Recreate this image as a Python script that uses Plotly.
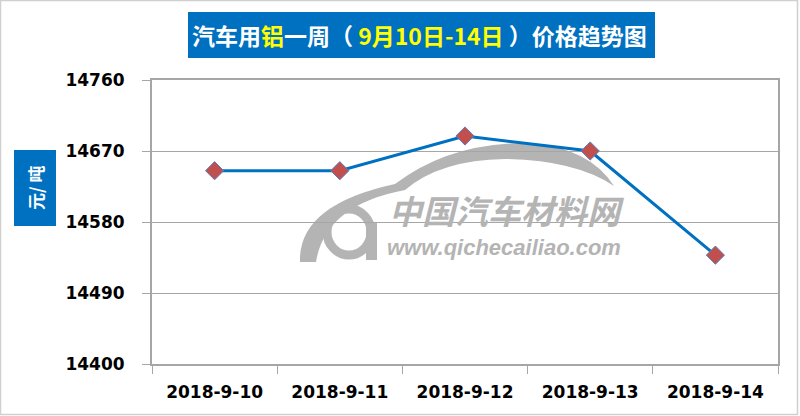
import plotly.graph_objects as go

dates = ["2018-9-10", "2018-9-11", "2018-9-12", "2018-9-13", "2018-9-14"]
prices = [14645, 14645, 14689, 14670, 14538]
y_ticks = [14400, 14490, 14580, 14670, 14760]

W, H = 800, 416
L, R, T, B = 152, 22, 80, 52
PW, PH = W - L - R, H - T - B


def px(x):
    return (x - L) / PW


def py(y):
    return (H - B - y) / PH


fig = go.Figure()
fig.add_trace(go.Scatter(
    x=dates, y=prices, mode="lines+markers",
    line=dict(color="#0070C0", width=3),
    marker=dict(symbol="diamond", size=14, color="#C0504D",
                line=dict(color="#5B7DB8", width=1)),
    hoverinfo="x+y", showlegend=False,
))

shapes = []
# outer frame
shapes.append(dict(type="rect", xref="paper", yref="paper",
                   x0=px(0.5), x1=px(797.5), y0=py(0.5), y1=py(414.5),
                   line=dict(color="#D0D0D0", width=1.5), layer="below"))
# title box
shapes.append(dict(type="rect", xref="paper", yref="paper",
                   x0=px(188), x1=px(655), y0=py(12), y1=py(58),
                   fillcolor="#0070C0", line=dict(width=0), layer="below"))
# y-title box
shapes.append(dict(type="rect", xref="paper", yref="paper",
                   x0=px(14), x1=px(56), y0=py(150), y1=py(226),
                   fillcolor="#0070C0", line=dict(width=0), layer="below"))


def path(pts):
    cmds = []
    for c, coords in pts:
        s = " ".join(f"{px(a):.4f},{py(b):.4f}" for a, b in coords)
        cmds.append(f"{c} {s}")
    return " ".join(cmds) + " Z"


# watermark car swoosh
swoosh = path([
    ("M", [(300, 262)]),
    ("Q", [(298, 205), (395, 184)]),
    ("Q", [(450, 142), (530, 143)]),
    ("Q", [(590, 148), (614, 186)]),
    ("Q", [(575, 160), (505, 159)]),
    ("Q", [(440, 160), (405, 190)]),
    ("Q", [(325, 205), (316, 262)]),
])
shapes.append(dict(type="path", xref="paper", yref="paper", path=swoosh,
                   fillcolor="#B4B4B4", line=dict(width=0), layer="between"))
# watermark "Q" ring
shapes.append(dict(type="circle", xref="paper", yref="paper",
                   x0=px(327), x1=px(371), y0=py(209), y1=py(255),
                   line=dict(color="#B4B4B4", width=9), layer="between"))
shapes.append(dict(type="rect", xref="paper", yref="paper",
                   x0=px(366), x1=px(377), y0=py(222), y1=py(260),
                   fillcolor="#B4B4B4", line=dict(width=0), layer="between"))

annotations = [
    dict(xref="paper", yref="paper", x=px(419), y=py(35),
         text="汽车用<span style='color:#FFFF00'>铝</span>一周（ <span style='color:#FFFF00'>9月10日-14日</span> ）价格趋势图",
         showarrow=False, xanchor="center", yanchor="middle",
         font=dict(family="Noto Sans CJK SC", size=23, color="white", weight="bold")),
    dict(xref="paper", yref="paper", x=px(35), y=py(188), text="元/ 吨",
         textangle=-90, showarrow=False, xanchor="center", yanchor="middle",
         font=dict(family="Noto Sans CJK SC", size=17, color="white", weight="bold")),
    dict(xref="paper", yref="paper", x=px(507), y=py(210), text="<i>中国汽车材料网</i>",
         showarrow=False, xanchor="center", yanchor="middle", borderpad=0,
         font=dict(family="Noto Sans CJK SC", size=33, color="#B4B4B4", weight="bold")),
    dict(xref="paper", yref="paper", x=px(504), y=py(247), text="<i>www.qichecailiao.com</i>",
         showarrow=False, xanchor="center", yanchor="middle", borderpad=0,
         font=dict(family="Liberation Sans", size=22, color="#B4B4B4", weight="bold")),
]

fig.update_layout(
    width=W, height=H,
    margin=dict(l=L, r=R, t=T, b=B, pad=0),
    paper_bgcolor="white", plot_bgcolor="white",
    shapes=shapes, annotations=annotations,
    xaxis=dict(type="category", range=[-0.5, 4.5], tickson="boundaries",
               ticks="outside", ticklen=8, tickcolor="#A6A6A6", tickwidth=1,
               showgrid=False, showline=True, linecolor="#A6A6A6", linewidth=2,
               mirror=True, ticklabelstandoff=12,
               tickfont=dict(family="DejaVu Sans", size=17, color="black", weight="bold"),
               fixedrange=True),
    yaxis=dict(range=[14400, 14760], tickvals=y_ticks,
               ticktext=[str(v) for v in y_ticks],
               ticks="outside", ticklen=8, tickcolor="#A6A6A6", tickwidth=1,
               showgrid=True, gridcolor="#A6A6A6", gridwidth=1,
               showline=True, linecolor="#A6A6A6", linewidth=2, mirror=True,
               zeroline=False, ticklabelstandoff=14,
               tickfont=dict(family="DejaVu Sans", size=17, color="black", weight="bold"),
               fixedrange=True),
)

fig.write_html("out.html", config={"displayModeBar": False},
               post_script="document.body.style.margin='0';document.body.style.padding='0';")
